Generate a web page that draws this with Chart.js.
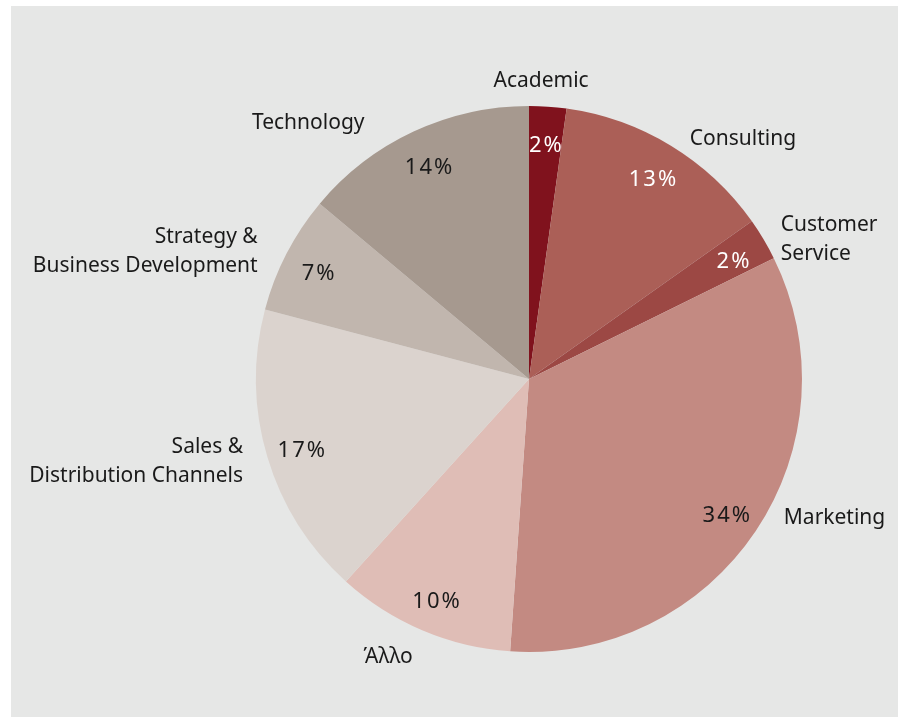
<!DOCTYPE html>
<html>
<head>
<meta charset="utf-8">
<script src="https://cdn.jsdelivr.net/npm/chart.js@4"></script>
<style>
  html, body { margin: 0; padding: 0; background: #ffffff; }
  #panel {
    position: absolute; left: 11px; top: 6px;
    width: 887px; height: 711px;
    background: #e6e7e6;
  }
</style>
</head>
<body>
<div id="panel"><canvas id="pieChart"></canvas></div>
<script>
// chart data (shares, labels as printed on the chart)
var categories = ['Academic', 'Consulting', 'Customer Service', 'Marketing', 'Άλλο',
    'Sales & Distribution Channels', 'Strategy & Business Development', 'Technology'];
var shares = [2.2, 13.0, 2.5, 33.4, 10.6, 17.4, 7.0, 13.9];
var pctLabels = ['2%', '13%', '2%', '34%', '10%', '17%', '7%', '14%'];

// how the category names are broken over lines
var labelLines = [
    ['Academic'], ['Consulting'], ['Customer', 'Service'], ['Marketing'], ['Άλλο'],
    ['Sales &', 'Distribution Channels'], ['Strategy &', 'Business Development'], ['Technology']
];

var sliceColors = ['#80121d', '#ab5f57', '#9c4844', '#c38a82', '#dfbdb6', '#dbd3ce', '#c1b6ae', '#a6998f'];
var pctColors = ['#ffffff', '#ffffff', '#ffffff', '#1a1a1a', '#1a1a1a', '#1a1a1a', '#1a1a1a', '#1a1a1a'];

// outer label placement: [degrees clockwise from 12 o'clock, distance as a share of the radius]
var outerPlace = [[2.3, 1.10], [41.5, 1.183], [64.7, 1.216], [114.2, 1.227],
    [207, 1.136], [258.4, 1.469], [288.7, 1.484], [319.5, 1.245]];

var FONT = '21px "Noto Sans", sans-serif';
var PCT_FONT = '22px "Noto Sans", sans-serif';
var LINE_H = 29;
var Y_SHIFT = 2;

var pieLabels = {
    id: 'pieLabels',
    afterDatasetsDraw: function (chart) {
        var ctx = chart.ctx;
        var arcs = chart.getDatasetMeta(0).data;
        ctx.save();
        ctx.textBaseline = 'middle';
        arcs.forEach(function (arc, i) {
            var p = arc.getProps(['x', 'y', 'startAngle', 'endAngle', 'outerRadius']);
            var mid = (p.startAngle + p.endAngle) / 2;
            var r = p.outerRadius * 0.87;

            // percentage inside the slice
            ctx.font = PCT_FONT;
            ctx.letterSpacing = '2px';
            ctx.fillStyle = pctColors[i];
            ctx.textAlign = 'center';
            ctx.fillText(pctLabels[i], p.x + Math.cos(mid) * r + 1, p.y + Math.sin(mid) * r + Y_SHIFT + 2);

            // category name outside
            ctx.font = FONT;
            ctx.letterSpacing = '0px';
            var a = (outerPlace[i][0] - 90) * Math.PI / 180;
            var cx = p.x + Math.cos(a) * p.outerRadius * outerPlace[i][1];
            var cy = p.y + Math.sin(a) * p.outerRadius * outerPlace[i][1] + Y_SHIFT;
            var lines = labelLines[i];
            var w = 0;
            lines.forEach(function (t) { w = Math.max(w, ctx.measureText(t).width); });
            var side = Math.cos(a) > 0.3 ? 1 : (Math.cos(a) < -0.3 ? -1 : 0);
            ctx.fillStyle = '#1a1a1a';
            lines.forEach(function (t, k) {
                var ly = cy + (k - (lines.length - 1) / 2) * LINE_H;
                if (side > 0) {
                    ctx.textAlign = 'left';
                    ctx.fillText(t, cx - w / 2, ly);
                } else if (side < 0) {
                    ctx.textAlign = 'right';
                    ctx.fillText(t, cx + w / 2, ly);
                } else {
                    ctx.textAlign = 'center';
                    ctx.fillText(t, cx, ly);
                }
            });
        });
        ctx.restore();
    }
};

var ctx = document.getElementById('pieChart');
new Chart(ctx, {
    type: 'pie',
    data: {
        labels: categories,
        datasets: [{
            data: shares,
            backgroundColor: sliceColors,
            borderWidth: 0
        }]
    },
    options: {
        responsive: true,
        maintainAspectRatio: false,
        animation: false,
        events: [],
        layout: { padding: { left: 245, right: 96, top: 100, bottom: 65 } },
        plugins: {
            legend: { display: false },
            tooltip: { enabled: false }
        }
    },
    plugins: [pieLabels]
});
</script>
</body>
</html>
